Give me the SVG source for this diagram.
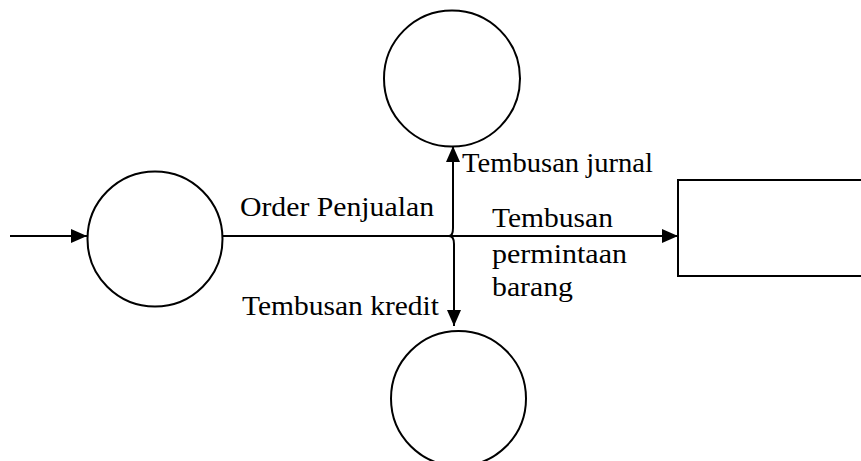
<svg xmlns="http://www.w3.org/2000/svg" width="861" height="461" viewBox="0 0 861 461">
  <style>
    .node { fill: #ffffff; stroke: #000000; stroke-width: 2; }
    .flow { fill: none; stroke: #000000; stroke-width: 2; }
    .label { font-family: "Liberation Serif", "DejaVu Serif", serif; font-size: 27px; fill: #000000; }
  </style>
  <defs>
    <marker id="arrow" viewBox="0 0 16 14" refX="16" refY="7" markerWidth="16" markerHeight="14" markerUnits="userSpaceOnUse" orient="auto">
      <path d="M0,0 L16,7 L0,14 Z" fill="#000000"/>
    </marker>
  </defs>
  <rect width="861" height="461" fill="#ffffff"/>

  <!-- processes and store -->
  <g id="process-order">
    <circle class="node" cx="155" cy="239" r="67.5"/>
  </g>
  <g id="process-journal">
    <circle class="node" cx="452" cy="78.5" r="68"/>
  </g>
  <g id="process-credit">
    <circle class="node" cx="458.5" cy="398.5" r="67.5"/>
  </g>
  <g id="store-goods">
    <rect class="node" x="678" y="180" width="184" height="96"/>
  </g>

  <!-- data flows -->
  <g id="connectors">
    <line class="flow" x1="10" y1="236" x2="87" y2="236" marker-end="url(#arrow)"/>
    <line class="flow" x1="222" y1="236" x2="678" y2="236" marker-end="url(#arrow)"/>
    <path class="flow" d="M449,236 Q453,236 453,228 L453,146" marker-end="url(#arrow)"/>
    <path class="flow" d="M449,236 Q454,236 454,244 L454,326" marker-end="url(#arrow)"/>
  </g>

  <!-- flow labels -->
  <g id="labels">
    <text class="label" x="240" y="216" textLength="194" lengthAdjust="spacingAndGlyphs">Order Penjualan</text>
    <text class="label" x="462" y="172" textLength="191" lengthAdjust="spacingAndGlyphs">Tembusan jurnal</text>
    <text class="label" x="242" y="315" textLength="197" lengthAdjust="spacingAndGlyphs">Tembusan kredit</text>
    <text class="label" x="492" y="227" textLength="121" lengthAdjust="spacingAndGlyphs">Tembusan</text>
    <text class="label" x="492" y="263" textLength="135" lengthAdjust="spacingAndGlyphs">permintaan</text>
    <text class="label" x="492" y="296" textLength="81" lengthAdjust="spacingAndGlyphs">barang</text>
  </g>
</svg>
